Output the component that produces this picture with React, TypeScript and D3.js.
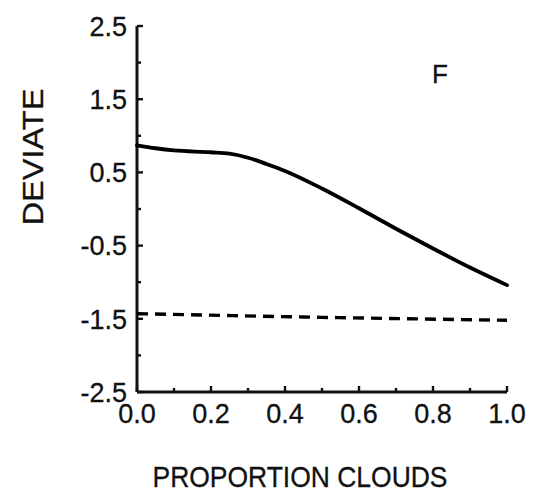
import React from "react";
import * as d3 from "d3";

const xValues = [0, 0.05, 0.1, 0.2, 0.25, 0.3, 0.35, 0.4, 0.5, 0.6, 0.7, 0.8, 0.9, 1.0];
const solidValues = [0.87, 0.83, 0.8, 0.775, 0.755, 0.7, 0.615, 0.52, 0.28, 0.01, -0.27, -0.54, -0.8, -1.04];
const dashedX = [0, 0.5, 1.0];
const dashedValues = [-1.43, -1.48, -1.52];
const yMajorTicks = [2.5, 1.5, 0.5, -0.5, -1.5, -2.5];
const yMinorTicks = [2.0, 1.0, 0.0, -1.0, -2.0];
const xMajorTicks = [0, 0.2, 0.4, 0.6, 0.8, 1.0];
const xMinorTicks = [0.1, 0.3, 0.5, 0.7, 0.9];
const yTickLabels = ["2.5", "1.5", "0.5", "-0.5", "-1.5", "-2.5"];
const xTickLabels = ["0.0", "0.2", "0.4", "0.6", "0.8", "1.0"];
const panelLabel = "F";
const xTitle = "PROPORTION CLOUDS";
const yTitle = "DEVIATE";

export default function App() {
  const W = 543, H = 494;
  const x = d3.scaleLinear().domain([0, 1]).range([137, 507]);
  const y = d3.scaleLinear().domain([-2.5, 2.5]).range([392, 26]);
  const line = d3.line<number>().x((_, i) => x(xValues[i])).y((d) => y(d)).curve(d3.curveMonotoneX);
  const dline = d3.line<number>().x((_, i) => x(dashedX[i])).y((d) => y(d)).curve(d3.curveMonotoneX);
  const font = "Liberation Sans, Arial, sans-serif";
  const ink = "#111";
  return (
    <svg width={W} height={H} style={{ position: "absolute", left: 0, top: 0, background: "#fff" }} fontFamily={font}>
      {/* axes */}
      <line x1={x(0)} x2={x(0)} y1={y(2.5)} y2={y(-2.5)} stroke={ink} strokeWidth={3} />
      <line x1={x(0)} x2={x(1)} y1={y(-2.5)} y2={y(-2.5)} stroke={ink} strokeWidth={3} />
      {yMajorTicks.map((t) => (
        <line key={"ym" + t} x1={x(0)} x2={x(0) + 6} y1={y(t)} y2={y(t)} stroke={ink} strokeWidth={2.4} />
      ))}
      {yMinorTicks.map((t) => (
        <line key={"yn" + t} x1={x(0)} x2={x(0) + 4} y1={y(t)} y2={y(t)} stroke={ink} strokeWidth={2.4} />
      ))}
      {xMajorTicks.map((t) => (
        <line key={"xm" + t} x1={x(t)} x2={x(t)} y1={y(-2.5)} y2={y(-2.5) - 6} stroke={ink} strokeWidth={2.4} />
      ))}
      {xMinorTicks.map((t) => (
        <line key={"xn" + t} x1={x(t)} x2={x(t)} y1={y(-2.5)} y2={y(-2.5) - 4} stroke={ink} strokeWidth={2.4} />
      ))}
      {yMajorTicks.map((t, i) => (
        <text key={"yl" + t} x={x(0) - 10} y={y(t)} dy="0.36em" textAnchor="end" fontSize={27} fill={ink} stroke={ink} strokeWidth={0.3}>
          {yTickLabels[i]}
        </text>
      ))}
      {xMajorTicks.map((t, i) => (
        <text key={"xl" + t} x={x(t)} y={423} textAnchor="middle" fontSize={27} fill={ink} stroke={ink} strokeWidth={0.3}>
          {xTickLabels[i]}
        </text>
      ))}
      {/* data */}
      <path d={line(solidValues) || ""} fill="none" stroke="#000" strokeWidth={3.8} strokeLinecap="round" />
      <path d={dline(dashedValues) || ""} fill="none" stroke="#000" strokeWidth={3.4} strokeDasharray="11,7" />
      {/* labels */}
      <text x={432} y={83} fontSize={26} fill={ink} stroke={ink} strokeWidth={0.3}>{panelLabel}</text>
      <text x={300} y={487} textAnchor="middle" fontSize={29} textLength={295} lengthAdjust="spacingAndGlyphs" fill={ink} stroke={ink} strokeWidth={0.3}>
        {xTitle}
      </text>
      <text transform="translate(43,157) rotate(-90)" textAnchor="middle" fontSize={30} textLength={137} lengthAdjust="spacingAndGlyphs" fill={ink} stroke={ink} strokeWidth={0.3}>
        {yTitle}
      </text>
    </svg>
  );
}
